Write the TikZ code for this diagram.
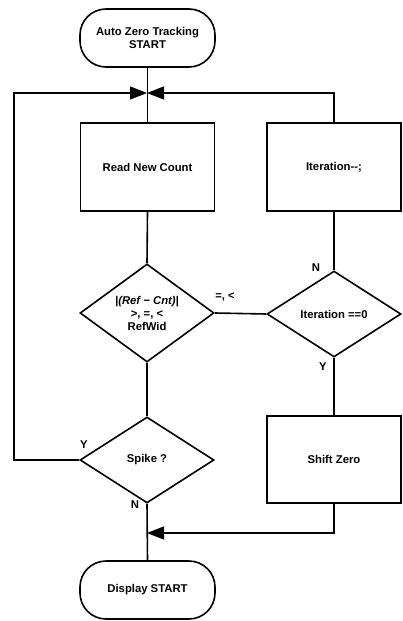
\documentclass[tikz,border=0pt]{standalone}
\usepackage{fontspec}
\setmainfont{Liberation Sans}
\usetikzlibrary{shapes.geometric,arrows.meta}
\tikzset{
  every node/.style={font=\bfseries\fontsize{11.3}{13}\selectfont},
  line/.style={line width=1.6pt},
  term/.style={draw,line width=1.6pt,rounded corners=26pt,minimum width=135pt,minimum height=58pt,align=center,inner sep=0pt},
  proc/.style={draw,line width=1.6pt,minimum width=134pt,minimum height=88pt,inner sep=0pt,align=center},
  dec/.style={draw,diamond,line width=1.6pt,minimum width=134pt,minimum height=86pt,inner sep=0pt,align=center},
  arr/.style={-{Triangle[length=17pt,width=13pt]}},
  lbl/.style={inner sep=0pt}
}
\begin{document}
\begin{tikzpicture}[x=1pt,y=-1pt]
\useasboundingbox (0,0) rectangle (402,621);
\node[term] (start) at (147.5,38) {Auto Zero Tracking\\START};
\node[proc] (read) at (147.5,167) {Read New Count};
\node[proc] (iter) at (334,167) {Iteration{-}{-};};
\node[dec] (d1) at (147,313) {\itshape |(Ref − Cnt)|\\>, =, <\\RefWid};
\node[dec] (d2) at (334,314) {Iteration ==0};
\node[dec] (spk) at (147,460) {Spike ?};
\node[proc,minimum height=87pt] (shift) at (334,459.5) {Shift Zero};
\node[term] (disp) at (147.5,590) {Display START};
\coordinate (J) at (147,93);
\coordinate (lc) at (14,93);
\coordinate (J2) at (147,533);
% main flow
\draw[line] (start.south) -- (read.north);
\draw[line] (read.south) -- (d1.north);
\draw[line] (d1.south) -- (spk.north);
\draw[line] (spk.south) -- (disp.north);
\draw[line] (d1.east) -- (d2.west);
\draw[line] (iter.south) -- (d2.north);
\draw[line] (d2.south) -- (shift.north);
% loops
\draw[line,arr] (spk.west) -| (lc) -- (J);
\draw[line,arr] (iter.north) |- (J);
\draw[line,arr] (shift.south) |- (J2);
% labels
\node[lbl] at (225,297) {=, <};
\node[lbl] at (316,268) {N};
\node[lbl] at (323,367) {Y};
\node[lbl] at (84,445) {Y};
\node[lbl] at (135,505) {N};
\end{tikzpicture}
\end{document}
